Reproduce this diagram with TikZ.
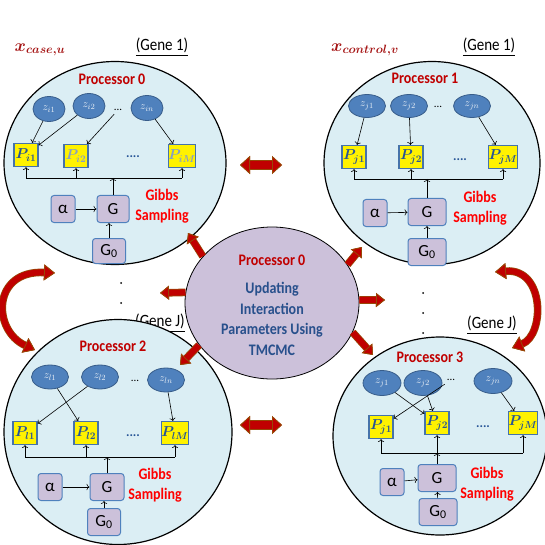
\documentclass[tikz,border=0pt]{standalone}
\usepackage{amsmath,amssymb}
\usepackage{fontspec}
\setmainfont{Carlito}
\usepackage{tikz}
\usetikzlibrary{shapes,arrows,arrows.meta,positioning,calc}
\usepackage{xcolor}
\definecolor{circfill}{RGB}{219,238,244}
\definecolor{zfill}{RGB}{79,129,189}
\definecolor{zline}{RGB}{56,93,138}
\definecolor{pline}{RGB}{70,115,170}
\definecolor{ptext}{RGB}{38,84,150}
\definecolor{plight}{RGB}{135,160,195}
\definecolor{gfill}{RGB}{204,193,218}
\definecolor{gline}{RGB}{79,129,189}
\definecolor{procred}{RGB}{192,0,0}
\definecolor{gibbsred}{RGB}{255,0,0}
\definecolor{cenblue}{RGB}{40,80,140}
\definecolor{arrred}{RGB}{192,0,0}
\definecolor{arrbrown}{RGB}{152,72,7}
\definecolor{xlab}{RGB}{165,20,20}

\tikzset{
  procnode/.style={draw, ellipse, very thick, fill=circfill, inner sep=0pt},
  zvar/.style={ellipse, draw=zline, fill=zfill, thick, minimum width=34pt, minimum height=25pt, inner sep=0pt, text=white!88!zfill, font=\fontsize{11}{12}\selectfont},
  pbox/.style={rectangle, draw=pline, fill=yellow, line width=1.2pt, minimum width=24pt, minimum height=23pt, inner sep=0pt, text=ptext, font=\fontsize{14}{15}\selectfont\boldmath},
  gbox/.style={rectangle, rounded corners=3pt, draw=gline, fill=gfill, line width=1pt, minimum width=24pt, minimum height=27pt, inner sep=0pt, font=\fontsize{17}{18}\selectfont},
  proclab/.style={text=procred, yscale=1.15, font=\fontsize{14}{16}\selectfont\bfseries},
  gibbs/.style={text=gibbsred, yscale=1.15, align=center, font=\fontsize{14}{17.5}\selectfont\bfseries},
  genelab/.style={yscale=1.15, font=\fontsize{15}{17}\selectfont},
  xvar/.style={text=xlab, font=\fontsize{17}{20}\selectfont\boldmath},
  pdots/.style={text=ptext, font=\fontsize{13}{14}\selectfont\bfseries},
  zdots/.style={font=\fontsize{11}{12}\selectfont},
  dotmark/.style={circle, fill=black, inner sep=0pt, minimum size=2pt},
  fatarrow/.style={draw=arrred, line width=6pt,
    -{Triangle[width=14pt,length=9pt,color=arrbrown,fill=arrred,line width=0.8pt]},
    preaction={draw=arrbrown, line width=7.6pt}},
  fatdouble/.style={draw=arrred, line width=8pt,
    {Triangle[width=18pt,length=10pt,color=arrbrown,fill=arrred,line width=0.8pt]}-{Triangle[width=18pt,length=10pt,color=arrbrown,fill=arrred,line width=0.8pt]},
    preaction={draw=arrbrown, line width=9.6pt}},
  curveduo/.style={draw=arrred, line width=6pt,
    {Triangle[width=16pt,length=11pt,color=arrbrown,fill=arrred,line width=0.8pt]}-{Triangle[width=16pt,length=11pt,color=arrbrown,fill=arrred,line width=0.8pt]},
    preaction={draw=arrbrown, line width=7.6pt}}
}

\begin{document}
\begin{tikzpicture}[x=1pt, y=-1pt, thin arrow/.style={->, line width=0.6pt}]
\useasboundingbox (0,0) rectangle (545,545);

% Headings
\node[xvar] (xcase) at (40,50) {$x_{case,u}$};
\node[genelab] (gene0) at (162,47) {\underline{(Gene 1)}};
\node[xvar] (xctrl) at (365,50) {$x_{control,v}$};
\node[genelab] (gene1) at (489,47) {\underline{(Gene 1)}};
\node[genelab] (gene2) at (160,323) {\underline{(Gene J)}};
\node[genelab] (gene3) at (492,325) {\underline{(Gene J)}};

% Processor 0 (top left)
\node[procnode, minimum width=222pt, minimum height=203pt] (circ0) at (115,163) {};
\node[proclab] (lab0) at (112,79) {Processor 0};
\node[zvar, minimum width=32pt] (z01) at (49,109) {$z_{i1}$};
\node[zvar, minimum width=32pt] (z02) at (89,106) {$z_{i2}$};
\node[zdots] (z0d) at (118,110) {...};
\node[zvar, minimum width=32pt] (z0n) at (147,108) {$z_{in}$};
\node[pbox] (p01) at (26,155) {$P_{i1}$};
\node[pbox, text=plight] (p02) at (76,156) {$P_{i2}$};
\node[pdots] (p0d) at (133,157) {....};
\node[pbox, text=plight] (p0M) at (182,156) {$P_{iM}$};
\node[gbox] (al0) at (63,209) {α};
\node[gbox, minimum width=32pt] (g0) at (113,209) {G};
\node[gbox, minimum width=33pt, minimum height=25pt] (gz0) at (109,251) {G\textsubscript{0}};
\node[gibbs] (gibbs0) at (162,206) {Gibbs\\Sampling};
\coordinate (bus0) at (0,178);
\draw[line width=0.6pt] (p01.south |- bus0) -- (p0M.south |- bus0);
\draw[thin arrow] (p01.south |- bus0) -- (p01.south);
\draw[thin arrow] (p02.south |- bus0) -- (p02.south);
\draw[thin arrow] (p0M.south |- bus0) -- (p0M.south);
\draw[thin arrow] (g0.north) -- (g0.north |- bus0);
\draw[thin arrow] (al0) -- (g0);
\draw[thin arrow] (gz0) -- (gz0 |- g0.south);
\draw[thin arrow] (z01) -- (p01);
\draw[thin arrow] (z02) -- (p01);
\draw[thin arrow] (z0d) -- (p02);
\draw[thin arrow] (z0n) -- (p0M);

% Processor 1 (top right)
\node[procnode, minimum width=216pt, minimum height=203pt] (circ1) at (432,163) {};
\node[proclab] (lab1) at (425,78) {Processor 1};
\node[zvar, minimum width=37pt, minimum height=23pt] (z11) at (367,106) {$z_{j1}$};
\node[zvar, minimum width=37pt, minimum height=23pt] (z12) at (409,106) {$z_{j2}$};
\node[zdots] (z1d) at (438,107) {...};
\node[zvar, minimum width=37pt, minimum height=23pt] (z1n) at (472,106) {$z_{jn}$};
\node[pbox] (p11) at (354,157) {$P_{j1}$};
\node[pbox] (p12) at (411,157) {$P_{j2}$};
\node[pdots] (p1d) at (460,160) {....};
\node[pbox] (p1M) at (503,157) {$P_{jM}$};
\node[gbox] (al1) at (375,213) {α};
\node[gbox, minimum width=38pt] (g1) at (427,212) {G};
\node[gbox, minimum width=38pt] (gz1) at (427,252) {G\textsubscript{0}};
\node[gibbs] (gibbs1) at (480,208) {Gibbs\\Sampling};
\coordinate (bus1) at (0,179);
\draw[line width=0.6pt] (p11.south |- bus1) -- (p1M.south |- bus1);
\draw[thin arrow] (p11.south |- bus1) -- (p11.south);
\draw[thin arrow] (p12.south |- bus1) -- (p12.south);
\draw[thin arrow] (p1M.south |- bus1) -- (p1M.south);
\draw[thin arrow] (g1.north) -- (g1.north |- bus1);
\draw[thin arrow] (al1) -- (g1);
\draw[thin arrow] (gz1) -- (g1);
\draw[thin arrow] (z11) -- (p11);
\draw[thin arrow] (z12) -- (p12);
\draw[thin arrow] (z1n) -- (p1M);

% Processor 2 (bottom left)
\node[procnode, minimum width=228pt, minimum height=225pt] (circ2) at (118,432) {};
\node[proclab] (lab2) at (113,346) {Processor 2};
\node[zvar, minimum width=37pt, minimum height=24pt] (z21) at (50,377) {$z_{l1}$};
\node[zvar, minimum width=37pt, minimum height=24pt] (z22) at (100,377) {$z_{l2}$};
\node[zdots] (z2d) at (135,381) {...};
\node[zvar, minimum width=37pt, minimum height=24pt] (z2n) at (166,380) {$z_{ln}$};
\node[pbox] (p21) at (25,433) {$P_{l1}$};
\node[pbox] (p22) at (86,433) {$P_{l2}$};
\node[pdots] (p2d) at (133,436) {....};
\node[pbox] (p2M) at (175,433) {$P_{lM}$};
\node[gbox] (al2) at (50,487) {α};
\node[gbox, minimum width=34pt] (g2) at (107,487) {G};
\node[gbox, minimum width=33pt] (gz2) at (104,522) {G\textsubscript{0}};
\node[gibbs] (gibbs2) at (155,485) {Gibbs\\Sampling};
\coordinate (bus2) at (0,457);
\draw[line width=0.6pt] (p21.south |- bus2) -- (p2M.south |- bus2);
\draw[thin arrow] (p21.south |- bus2) -- (p21.south);
\draw[thin arrow] (p22.south |- bus2) -- (p22.south);
\draw[thin arrow] (p2M.south |- bus2) -- (p2M.south);
\draw[thin arrow] (g2.north) -- (g2.north |- bus2);
\draw[thin arrow] (al2) -- (g2);
\draw[thin arrow] (gz2) -- (gz2 |- g2.south);
\draw[thin arrow] (z21) -- (p22);
\draw[thin arrow] (z22) -- (p21);
\draw[thin arrow] (z2n) -- (p2M);

% Processor 3 (bottom right)
\node[procnode, minimum width=214pt, minimum height=198pt] (circ3) at (440,436) {};
\node[proclab] (lab3) at (430,357) {Processor 3};
\node[zvar, minimum width=38pt] (z31) at (382,383) {$z_{j1}$};
\node[zvar, minimum width=38pt] (z32) at (423,383) {$z_{j2}$};
\node[zdots] (z3d) at (451,380) {...};
\node[zvar, minimum width=38pt] (z3n) at (493,381) {$z_{jn}$};
\node[pbox] (p31) at (381,427) {$P_{j1}$};
\node[pbox] (p32) at (437,423) {$P_{j2}$};
\node[pdots] (p3d) at (483,427) {....};
\node[pbox] (p3M) at (523,423) {$P_{jM}$};
\node[gbox] (al3) at (392,482) {α};
\node[gbox, minimum width=38pt] (g3) at (437,478) {G};
\node[gbox, minimum width=38pt] (gz3) at (438,512) {G\textsubscript{0}};
\node[gibbs] (gibbs3) at (487,484) {Gibbs\\Sampling};
\coordinate (bus3) at (0,453);
\draw[line width=0.6pt] (p31.south |- bus3) -- (p3M.south |- bus3);
\draw[thin arrow] (p31.south |- bus3) -- (p31.south);
\draw[thin arrow] (p32.south |- bus3) -- (p32.south);
\draw[thin arrow] (p3M.south |- bus3) -- (p3M.south);
\draw[thin arrow] (g3.north) -- (g3.north |- bus3);
\draw[thin arrow] (al3) -- (g3);
\draw[thin arrow] (gz3) -- (g3);
\draw[thin arrow] (z31) -- (p32);
\draw[thin arrow] (z3d) -- (p31);
\draw[thin arrow] (z32) -- (p32);
\draw[thin arrow] (z3n) -- (p3M);

% Central processor
\node[draw, ellipse, thick, fill=gfill, minimum width=174pt, minimum height=152pt] (cen) at (272,303) {};
\node[proclab] (cenlab) at (272,260) {Processor 0};
\node[text=cenblue, yscale=1.15, align=center, font=\fontsize{14}{18}\selectfont\bfseries] (centxt) at (272,319) {Updating\\Interaction\\Parameters Using\\TMCMC};

% Dots between genes
\node[dotmark] (vdl1) at (121,283) {};
\node[dotmark] (vdl2) at (121,303) {};
\node[dotmark] (vdr1) at (423,293) {};
\node[dotmark] (vdr2) at (423,313) {};
\node[dotmark] (vdr3) at (423,333) {};

% Broadcast arrows
\coordinate (tipUL) at (188,233);
\coordinate (tipL) at (160,293);
\coordinate (tipLL) at (180,365);
\coordinate (tipUR) at (362,247);
\coordinate (tipR) at (385,300);
\coordinate (tipLR) at (373,355);
\draw[fatarrow] (cen.146) -- (tipUL);
\draw[fatarrow] (cen.173) -- (tipL);
\draw[fatarrow] (cen.210) -- (tipLL);
\draw[fatarrow] (cen.27) -- (tipUR);
\draw[fatarrow] (cen.2) -- (tipR);
\draw[fatarrow] (cen.340) -- (tipLR);

% Exchange arrows
\coordinate (topA) at (240,165);
\coordinate (topB) at (282,165);
\coordinate (botA) at (240,425);
\coordinate (botB) at (282,425);
\draw[fatdouble] (topA) -- (topB);
\draw[fatdouble] (botA) -- (botB);
\coordinate (lftA) at (55,273);
\coordinate (lftB) at (35,350);
\coordinate (rgtA) at (495,272);
\coordinate (rgtB) at (512,348);
\draw[curveduo] (lftA) .. controls (-8,270) and (-8,330) .. (lftB);
\draw[curveduo] (rgtA) .. controls (545,268) and (545,335) .. (rgtB);
\end{tikzpicture}
\end{document}
